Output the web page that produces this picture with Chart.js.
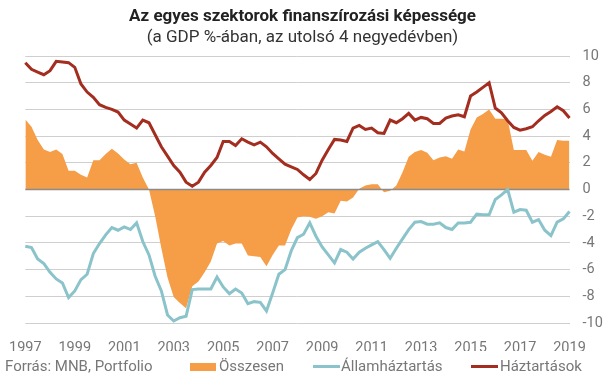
<!DOCTYPE html>
<html>
<head>
<meta charset="utf-8">
<script src="https://cdn.jsdelivr.net/npm/chart.js@4"></script>
<style>
  body { margin: 0; background: #fff; font-family: Roboto, sans-serif; }
  #wrap { position: relative; width: 605px; height: 378px; overflow: hidden; }
  #c { position: absolute; left: 0; top: 0; }
  .title { position: absolute; left: 0; width: 605px; text-align: center; color: #222; font-size: 17px; }
  .t1 { top: 5px; font-weight: bold; }
  .t2 { top: 26px; color: #333; }
  .foot { position: absolute; top: 357px; font-size: 15px; color: #777; white-space: nowrap; }
  .sw { position: absolute; }
</style>
</head>
<body>
<div id="wrap">
  <canvas id="c" width="605" height="378"></canvas>
  <div class="title t1">Az egyes szektorok finanszírozási képessége</div>
  <div class="title t2">(a GDP %-ában, az utolsó 4 negyedévben)</div>
  <div class="foot" style="left:5px">Forrás: MNB, Portfolio</div>
  <div class="sw" style="left:190px;top:363px;width:26px;height:8px;background:#F59D47"></div>
  <div class="foot" style="left:219px">Összesen</div>
  <div class="sw" style="left:313px;top:365px;width:27px;height:3px;background:#8BC3CB"></div>
  <div class="foot" style="left:341px">Államháztartás</div>
  <div class="sw" style="left:471px;top:365px;width:27px;height:3px;background:#A32D1F"></div>
  <div class="foot" style="left:500px">Háztartások</div>
</div>
<script>
// negyedéves adatok, 1997 Q1 - 2019 Q1
const quarters = [];
for (let y = 1997; y <= 2019; y++) for (let q = 1; q <= 4; q++) if (!(y === 2019 && q > 1)) quarters.push(y + ' Q' + q);

const osszesen = [
  5.25, 4.7, 3.7, 3.0, 2.8, 3.0, 2.65, 1.4, 1.4, 1.1, 0.9, 2.2, 2.2, 2.65, 3.05, 2.7,
  2.25, 1.9, 2.0, 0.9, 0.0, -2.0, -4.4, -6.6, -8.05, -8.5, -8.9, -7.25, -6.9, -6.2, -5.4, -4.05,
  -3.85, -4.2, -4.05, -4.05, -4.95, -5.0, -5.05, -5.75, -4.9, -4.2, -4.2, -3.0, -2.1, -2.0, -2.05, -2.2,
  -2.0, -1.7, -1.8, -0.85, -0.9, -0.6, 0.05, 0.3, 0.4, 0.4, -0.2, -0.1, 0.3, 1.3, 2.45, 2.8,
  2.95, 2.75, 2.2, 2.4, 2.5, 2.3, 3.0, 2.85, 4.5, 5.4, 5.65, 6.0, 5.3, 5.3, 5.25, 2.95,
  2.95, 2.95, 2.15, 2.8, 2.6, 2.45, 3.7, 3.65, 3.65
];
const allamhaztartas = [
  -4.25, -4.35, -5.2, -5.55, -6.2, -6.7, -7.0, -8.1, -7.6, -6.75, -6.35, -4.8, -4.05, -3.4, -2.85, -3.05,
  -2.8, -3.0, -2.5, -3.9, -4.9, -6.5, -7.6, -9.4, -9.85, -9.6, -9.5, -7.5, -7.45, -7.45, -7.45, -6.55,
  -7.3, -7.8, -7.45, -7.75, -8.55, -8.4, -8.45, -9.1, -7.75, -6.35, -6.0, -4.6, -3.6, -3.35, -2.5, -3.5,
  -4.3, -4.9, -5.5, -4.5, -4.7, -5.2, -4.7, -4.4, -4.15, -3.9, -4.5, -5.15, -4.4, -3.7, -3.0, -2.45,
  -2.4, -2.6, -2.6, -2.5, -2.85, -3.0, -2.5, -2.5, -2.45, -1.85, -1.9, -1.9, -0.75, -0.4, 0.0, -1.7,
  -1.5, -1.55, -2.45, -2.25, -3.05, -3.45, -2.45, -2.2, -1.65
];
const haztartasok = [
  9.5, 9.0, 8.8, 8.6, 8.9, 9.6, 9.55, 9.5, 9.15, 7.9, 7.3, 6.9, 6.35, 6.15, 6.0, 5.8,
  5.2, 4.9, 4.6, 5.2, 5.0, 4.1, 3.2, 2.5, 1.8, 1.3, 0.55, 0.25, 0.55, 1.3, 1.8, 2.4,
  3.6, 3.6, 3.3, 3.8, 3.55, 3.35, 3.55, 3.2, 2.7, 2.3, 1.9, 1.7, 1.5, 1.1, 0.75, 1.2,
  2.2, 3.0, 3.75, 3.7, 3.6, 4.6, 4.8, 4.5, 4.6, 4.25, 4.2, 5.2, 5.0, 5.3, 5.7, 5.2,
  5.4, 5.3, 4.95, 4.95, 5.35, 5.5, 5.6, 5.45, 7.0, 7.3, 7.65, 8.0, 6.1, 5.75, 5.15, 4.65,
  4.45, 4.55, 4.7, 5.15, 5.55, 5.85, 6.2, 5.9, 5.35
];

// nullvonal a terület fölé, de a vonalak alá
const zeroLine = {
  id: 'zeroLine',
  afterDatasetDraw(chart, args) {
    if (args.index !== 0) return;
    const y = chart.scales.y.getPixelForValue(0);
    const ctx = chart.ctx;
    ctx.save();
    ctx.strokeStyle = '#8c8c8c';
    ctx.lineWidth = 1.5;
    ctx.beginPath();
    ctx.moveTo(chart.chartArea.left, y);
    ctx.lineTo(chart.chartArea.right, y);
    ctx.stroke();
    ctx.restore();
  }
};

const tickFont = { family: 'Roboto', size: 14.5 };

new Chart(document.getElementById('c'), {
  type: 'line',
  data: {
    labels: quarters,
    datasets: [
      { label: 'Összesen', data: osszesen, fill: 'origin', backgroundColor: '#F59D47', borderWidth: 0, pointRadius: 0, tension: 0, order: 3 },
      { label: 'Államháztartás', data: allamhaztartas, borderColor: '#8BC3CB', borderWidth: 3, pointRadius: 0, fill: false, order: 2 },
      { label: 'Háztartások', data: haztartasok, borderColor: '#A32D1F', borderWidth: 3, pointRadius: 0, fill: false, order: 1 }
    ]
  },
  options: {
    responsive: false,
    animation: false,
    devicePixelRatio: 1,
    layout: { padding: { top: 56, left: 24, right: 0, bottom: 27 } },
    plugins: { legend: { display: false }, tooltip: { enabled: false } },
    scales: {
      x: {
        grid: { display: false },
        border: { display: false },
        ticks: {
          autoSkip: false, maxRotation: 0, padding: 9, color: '#777', font: tickFont,
          callback: (v, i) => i % 8 === 0 ? quarters[i].slice(0, 4) : ''
        },
        afterFit: s => { s.height = 28; }
      },
      y: {
        position: 'right',
        min: -10, max: 10,
        grid: { color: c => c.tick.value === 0 ? 'rgba(0,0,0,0)' : '#cfcfcf', drawTicks: false },
        border: { display: false },
        ticks: { stepSize: 2, padding: 13, color: '#777', font: tickFont },
        afterFit: s => { s.width = 35.5; }
      }
    }
  },
  plugins: [zeroLine]
});
</script>
</body>
</html>
